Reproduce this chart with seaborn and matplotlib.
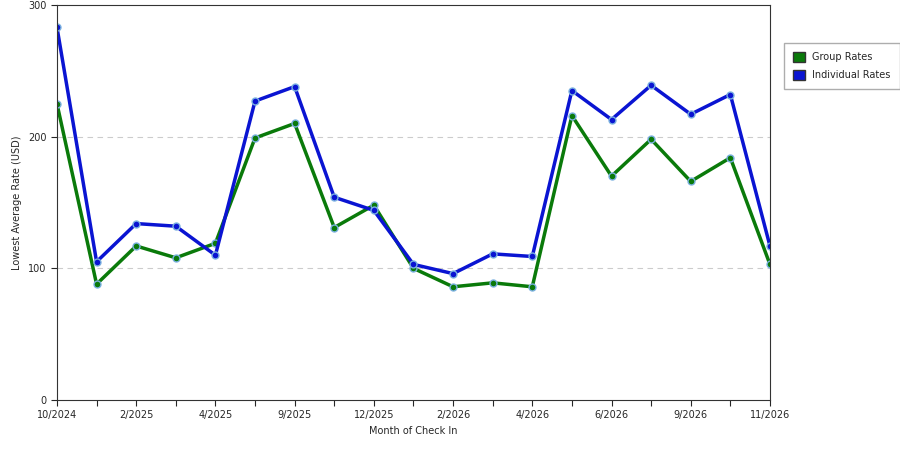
import matplotlib
matplotlib.use("Agg")
import matplotlib.pyplot as plt
import seaborn as sns
import pandas as pd

labels = ["10/2024","","2/2025","","4/2025","","9/2025","","12/2025","","2/2026","","4/2026","","6/2026","","9/2026","","11/2026"]
group = [225,88,117,108,119,199,210,131,148,100,86,89,86,216,170,198,166,184,103]
indiv = [283,105,134,132,110,227,238,154,144,103,96,111,109,235,213,239,217,232,117]

sns.set_style("white")
plt.rcParams['font.family'] = ['DejaVu Sans']
idx = list(range(len(group)))
df = pd.DataFrame({"x": idx*2, "y": group+indiv,
                   "s": ["Group Rates"]*len(group)+["Individual Rates"]*len(indiv)})
fig = plt.figure(figsize=(9,4.5), dpi=100)
ax = fig.add_axes([0.0633, 0.111, 0.7922, 0.878])
pal = {"Group Rates": "#0a7a0a", "Individual Rates": "#0a14d2"}
sns.lineplot(data=df, x="x", y="y", hue="s", palette=pal, lw=2.5, marker="o",
             markersize=5, markeredgecolor="#7ab0e0", markeredgewidth=1, ax=ax, legend=False)
ax.set_xlim(0, len(group)-1)
ax.set_ylim(0, 300)
ax.set_xticks(idx)
ax.set_xticklabels(labels, fontsize=7)
ax.set_yticks([0,100,200,300])
ax.tick_params(axis='y', labelsize=7, length=4, left=True)
ax.tick_params(axis='x', length=4, bottom=True)
for v in [100,200]:
    ax.axhline(v, color="#cccccc", ls=(0,(5,4)), lw=0.8, zorder=0)
for s in ax.spines.values():
    s.set_color("#333333"); s.set_linewidth(0.8)
ax.set_xlabel("Month of Check In", fontsize=7)
ax.set_ylabel("Lowest Average Rate (USD)", fontsize=7)
from matplotlib.patches import Patch
h = [Patch(facecolor=pal[k], edgecolor="#333") for k in pal]
fig.legend(h, list(pal), loc="upper left", bbox_to_anchor=(0.866, 0.915), fontsize=7,
           frameon=True, edgecolor="#999", fancybox=False, handlelength=1.2, handleheight=1.2,
           borderpad=0.9, labelspacing=0.8)
fig.savefig("out.png", dpi=100)
